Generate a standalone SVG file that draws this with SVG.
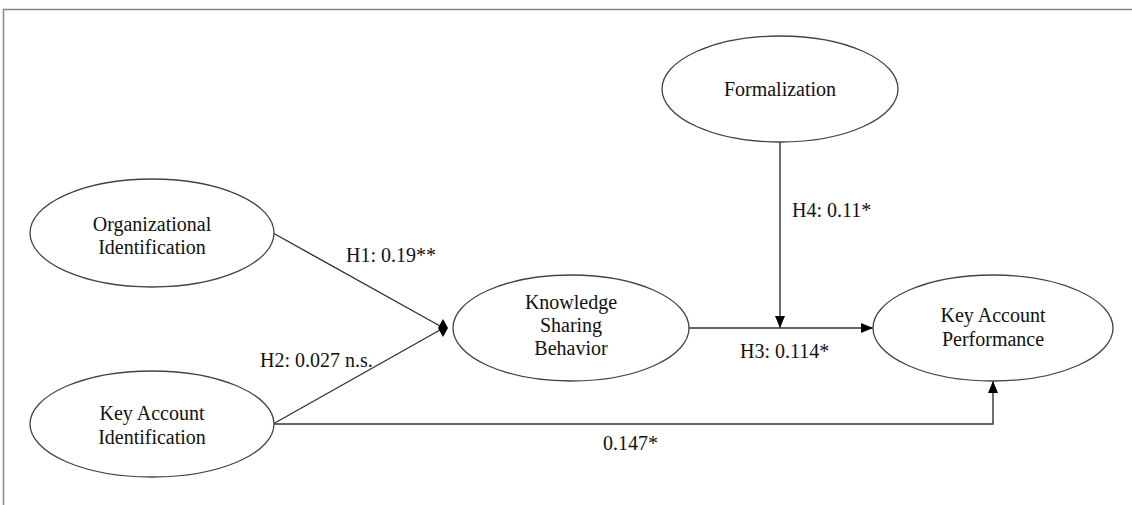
<svg xmlns="http://www.w3.org/2000/svg" width="1132" height="505" viewBox="0 0 1132 505">
<style>
.node{fill:#fff;stroke:#444;stroke-width:1.3}
.t{font-family:"Liberation Serif","Times New Roman",serif;font-size:20px;fill:#111;text-anchor:middle}
.l{font-family:"Liberation Serif","Times New Roman",serif;font-size:20px;fill:#111}
.c{fill:none;stroke:#333;stroke-width:1.4}
.h{fill:#000}
</style>
<defs>
<marker id="arr" viewBox="0 0 12 10" refX="12" refY="5" markerWidth="12" markerHeight="10" markerUnits="userSpaceOnUse" orient="auto">
<path d="M0,0 L12,5 L0,10 Z" fill="#000"/>
</marker>
</defs>
<g id="frame">
<path d="M3.5,505 L3.5,9.5 L1132,9.5" fill="none" stroke="#888" stroke-width="1.5"/>
</g>
<g id="connectors">
<line class="c" x1="273" y1="233" x2="440" y2="326"/>
<line class="c" x1="273" y1="424" x2="440" y2="330"/>
<polygon class="h" points="443,319 438,328 448,328"/>
<polygon class="h" points="438,328 448,328 443,337"/>
<line class="c" x1="689" y1="328" x2="873" y2="328" marker-end="url(#arr)"/>
<line class="c" x1="780" y1="142" x2="780" y2="328" marker-end="url(#arr)"/>
<polyline class="c" points="273,424 993,424 993,381" marker-end="url(#arr)"/>
<text class="l" x="346" y="262">H1: 0.19**</text>
<text class="l" x="260" y="367">H2: 0.027 n.s.</text>
<text class="l" x="740" y="358">H3: 0.114*</text>
<text class="l" x="792" y="217">H4: 0.11*</text>
<text class="l" x="603" y="450">0.147*</text>
</g>
<g id="org">
<ellipse class="node" cx="152" cy="233" rx="122" ry="54"/>
<text class="t" x="152" y="231">Organizational</text>
<text class="t" x="152" y="254">Identification</text>
</g>
<g id="kai">
<ellipse class="node" cx="152" cy="424" rx="122" ry="53"/>
<text class="t" x="152" y="420">Key Account</text>
<text class="t" x="152" y="444">Identification</text>
</g>
<g id="ksb">
<ellipse class="node" cx="571" cy="328" rx="118" ry="53"/>
<text class="t" x="571" y="309">Knowledge</text>
<text class="t" x="571" y="332">Sharing</text>
<text class="t" x="571" y="355">Behavior</text>
</g>
<g id="formalization">
<ellipse class="node" cx="780" cy="89" rx="118" ry="53"/>
<text class="t" x="780" y="96">Formalization</text>
</g>
<g id="kap">
<ellipse class="node" cx="993" cy="328" rx="120" ry="53"/>
<text class="t" x="993" y="322">Key Account</text>
<text class="t" x="993" y="346">Performance</text>
</g>
</svg>
